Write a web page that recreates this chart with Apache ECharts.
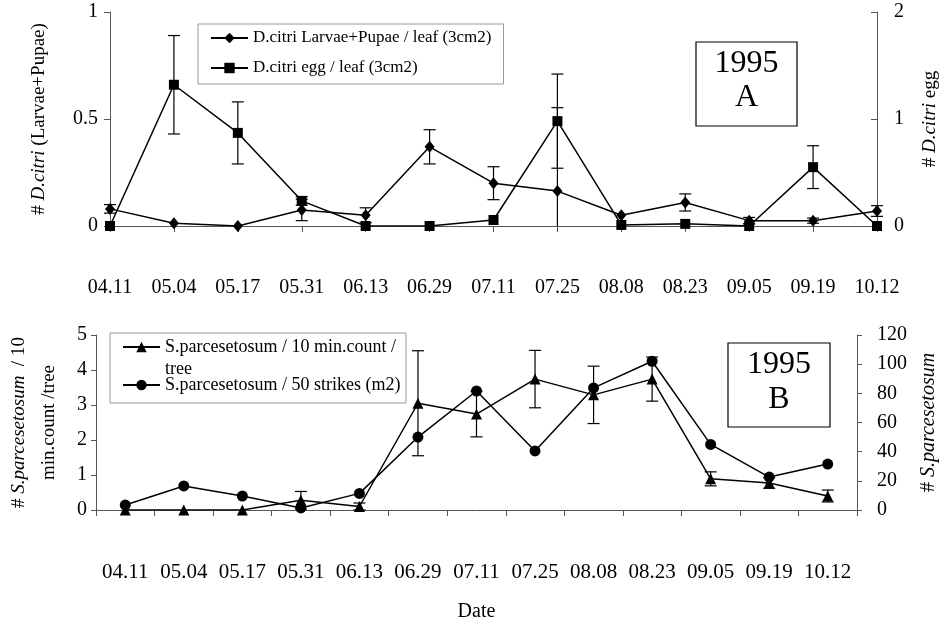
<!DOCTYPE html>
<html><head><meta charset="utf-8">
<script src="https://cdn.jsdelivr.net/npm/echarts@6/dist/echarts.min.js"></script>
<style>html,body{margin:0;padding:0;background:#fff}#c{width:939px;height:627px}</style>
</head><body><div id="c"></div>
<script>
const dates = ['04.11','05.04','05.17','05.31','06.13','06.29','07.11','07.25','08.08','08.23','09.05','09.19','10.12'];
// Panel A
const larvae    = [0.08, 0.013, 0, 0.075, 0.05, 0.37, 0.20, 0.163, 0.05, 0.11, 0.025, 0.025, 0.07];
const larvaeErr = [0.02, 0, 0, 0.05, 0.035, 0.08, 0.077, 0.39, 0, 0.04, 0.015, 0.012, 0.025];
const egg       = [0, 1.32, 0.87, 0.235, 0, 0, 0.056, 0.98, 0.01, 0.02, 0, 0.55, 0];
const eggErr    = [0, 0.46, 0.29, 0.04, 0, 0, 0, 0.44, 0, 0, 0.02, 0.2, 0];
// Panel B
const tenMin    = [0, 0, 0, 0.28, 0.1, 3.05, 2.74, 3.74, 3.29, 3.74, 0.89, 0.77, 0.4];
const tenMinErr = [0, 0, 0, 0.25, 0.1, 1.5, 0.65, 0.82, 0.82, 0.63, 0.2, 0.15, 0.17];
const strikes   = [3.4, 16.5, 9.6, 1.4, 11.4, 50, 81.6, 40.5, 83.7, 102, 45, 22.6, 31.5];

const names = ['D.citri Larvae+Pupae / leaf (3cm2)', 'D.citri egg / leaf (3cm2)',
  'S.parcesetosum / 10 min.count / tree', 'S.parcesetosum / 50 strikes (m2)'];

const F = 'Liberation Serif';
const AX = '#555';

function errData(vals, errs){ return vals.map((v,i)=>[i, v, errs[i]]).filter(d=>d[2]>0); }
function errRender(params, api){
  const i = api.value(0), v = api.value(1), e = api.value(2);
  const top = api.coord([i, v + e]);
  const bot = api.coord([i, Math.max(v - e, 0)]);
  const hw = 6;
  const style = {stroke:'#000', lineWidth:1.2};
  const ch = [
    {type:'line', shape:{x1:top[0], y1:top[1], x2:bot[0], y2:bot[1]}, style},
    {type:'line', shape:{x1:top[0]-hw, y1:top[1], x2:top[0]+hw, y2:top[1]}, style}
  ];
  if (v - e >= 0) ch.push({type:'line', shape:{x1:bot[0]-hw, y1:bot[1], x2:bot[0]+hw, y2:bot[1]}, style});
  return {type:'group', children: ch};
}
function lineSeries(name, xi, yi, data, symbol, size){
  return {type:'line', name, xAxisIndex:xi, yAxisIndex:yi, data, symbol, symbolSize:size,
    showAllSymbol:true, z:3,
    lineStyle:{color:'#000', width:1.5}, itemStyle:{color:'#000'}};
}
function errSeries(xi, yi, vals, errs){
  return {type:'custom', xAxisIndex:xi, yAxisIndex:yi, data: errData(vals, errs),
    renderItem: errRender, z:2, silent:true};
}
const lbl = (size, margin) => ({fontFamily:F, fontSize:size, color:'#000', margin, interval:0});
const nameStyle = (size, lh) => ({fontFamily:F, fontSize:size, color:'#000', lineHeight:lh,
  rich:{i:{fontFamily:F, fontSize:size, fontStyle:'italic', color:'#000', lineHeight:lh}}});
const axLine = {show:true, lineStyle:{color:AX, width:1}};

const chart = echarts.init(document.getElementById('c'));
chart.setOption({
  animation:false,
  backgroundColor:'#fff',
  grid:[
    {left:110, right:62, top:12, height:214, outerBoundsMode:'none', containLabel:false},
    {left:96, right:82, top:335, height:175, outerBoundsMode:'none', containLabel:false}
  ],
  xAxis:[
    {type:'category', gridIndex:0, data:dates, boundaryGap:false,
      axisLine:axLine, axisTick:{show:true, length:6, lineStyle:{color:AX}},
      axisLabel:lbl(20, 52)},
    {type:'category', gridIndex:1, data:dates, boundaryGap:true,
      axisLine:axLine, axisTick:{show:true, length:6, lineStyle:{color:AX}},
      axisLabel:lbl(21, 52),
      name:'Date', nameLocation:'middle', nameGap:92, nameTextStyle:{fontFamily:F, fontSize:20, color:'#000'}}
  ],
  yAxis:[
    {type:'value', gridIndex:0, min:0, max:1, interval:0.5, position:'left',
      axisLine:axLine, axisTick:{show:true, length:6, lineStyle:{color:AX}}, splitLine:{show:false},
      axisLabel:lbl(20, 12),
      name:'# {i|D.citri} (Larvae+Pupae)', nameLocation:'middle', nameRotate:90, nameGap:60,
      nameTextStyle:nameStyle(19, 22)},
    {type:'value', gridIndex:0, min:0, max:2, interval:1, position:'right',
      axisLine:axLine, axisTick:{show:true, inside:true, length:6, lineStyle:{color:AX}}, splitLine:{show:false},
      axisLabel:lbl(20, 17),
      name:'# {i|D.citri} egg', nameLocation:'middle', nameRotate:90, nameGap:42,
      nameTextStyle:nameStyle(19, 22)},
    {type:'value', gridIndex:1, min:0, max:5, interval:1, position:'left',
      axisLine:axLine, axisTick:{show:true, length:5, lineStyle:{color:AX}}, splitLine:{show:false},
      axisLabel:lbl(20, 9),
      name:'# {i|S.parcesetosum}  / 10\nmin.count /tree', nameLocation:'middle', nameRotate:90, nameGap:32,
      nameTextStyle:nameStyle(19, 30)},
    {type:'value', gridIndex:1, min:0, max:120, interval:20, position:'right',
      axisLine:axLine, axisTick:{show:true, length:5, lineStyle:{color:AX}}, splitLine:{show:false},
      axisLabel:lbl(20, 20),
      name:'# {i|S.parcesetosum}', nameLocation:'middle', nameRotate:90, nameGap:60,
      nameTextStyle:nameStyle(20, 22)}
  ],
  legend:[
    {data:[names[0], names[1]], orient:'vertical', left:198, top:24,
      padding:[4,12,6,12], itemWidth:37, itemHeight:13, itemGap:10,
      borderColor:'#999', borderWidth:1, selectedMode:false,
      textStyle:{fontFamily:F, fontSize:17, lineHeight:20, color:'#000'}},
    {data:[names[2], names[3]], orient:'vertical', left:122, top:314,
      padding:0, itemWidth:37, itemHeight:13, itemGap:-6, selectedMode:false,
      formatter: n => n === names[2]
        ? '{s| }\n{a|S.parcesetosum / 10 min.count /}\n{a|tree}'
        : '{a|' + n + '}',
      textStyle:{fontFamily:F, fontSize:18, lineHeight:22, color:'#000',
        rich:{s:{fontFamily:F, fontSize:18, lineHeight:22}, a:{fontFamily:F, fontSize:18, lineHeight:22, color:'#000'}}}}
  ],
  graphic:[
    {type:'rect', shape:{x:110, y:333, width:296, height:70}, style:{fill:'none', stroke:'#999', lineWidth:1}, silent:true},
    {type:'rect', shape:{x:696, y:42, width:101, height:84}, style:{fill:'#fff', stroke:'#000', lineWidth:1.2}, z:10},
    {type:'text', x:746.5, y:81, z:11, style:{text:'1995\nA', fontFamily:F, fontSize:32, lineHeight:34, align:'center', verticalAlign:'middle', fill:'#000'}},
    {type:'rect', shape:{x:728, y:343, width:102, height:84}, style:{fill:'#fff', stroke:'#000', lineWidth:1.2}, z:10},
    {type:'text', x:779, y:382, z:11, style:{text:'1995\nB', fontFamily:F, fontSize:32, lineHeight:35, align:'center', verticalAlign:'middle', fill:'#000'}}
  ],
  series:[
    lineSeries(names[0], 0, 0, larvae, 'diamond', [10,12]),
    lineSeries(names[1], 0, 1, egg, 'rect', 10),
    lineSeries(names[2], 1, 2, tenMin, 'triangle', 11),
    lineSeries(names[3], 1, 3, strikes, 'circle', 11),
    errSeries(0, 0, larvae, larvaeErr),
    errSeries(0, 1, egg, eggErr),
    errSeries(1, 2, tenMin, tenMinErr)
  ]
});
</script></body></html>
